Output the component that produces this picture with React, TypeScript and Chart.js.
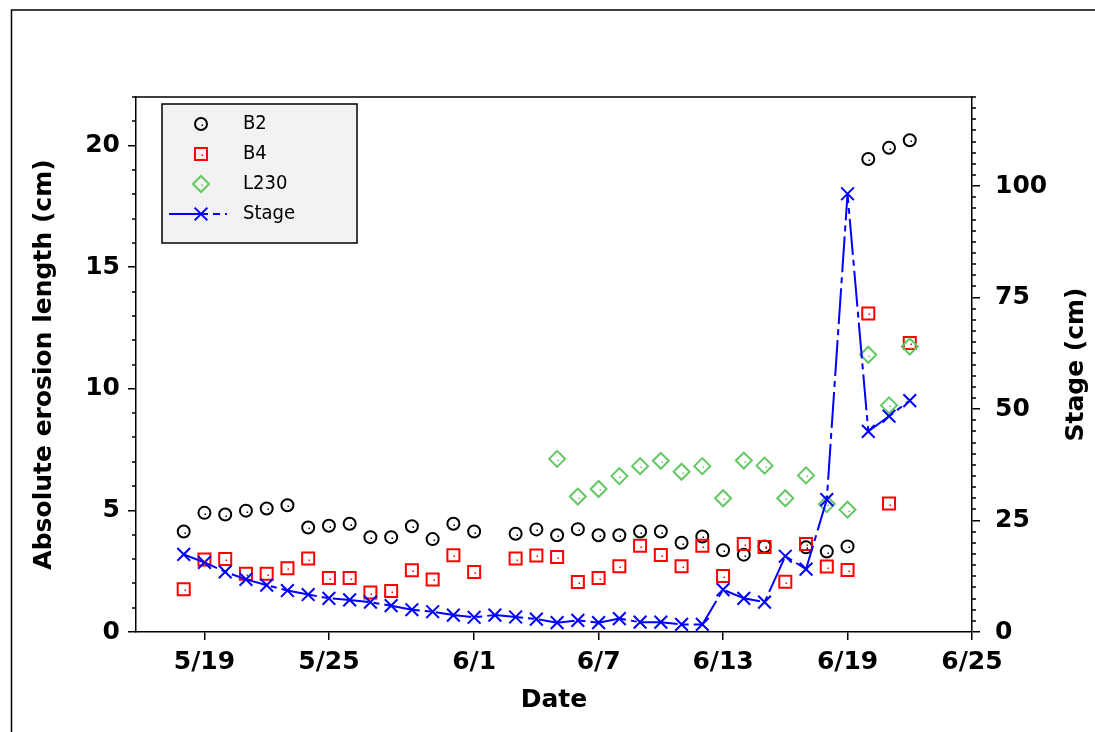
import { useEffect, useRef } from 'react';
import { Chart, registerables } from 'chart.js';

Chart.register(...registerables);

// sampling dates (one reading a day)
const dates = [
  '5/18', '5/19', '5/20', '5/21', '5/22', '5/23', '5/24', '5/25', '5/26', '5/27', '5/28', '5/29',
  '5/30', '5/31', '6/1', '6/2', '6/3', '6/4', '6/5', '6/6', '6/7', '6/8', '6/9', '6/10',
  '6/11', '6/12', '6/13', '6/14', '6/15', '6/16', '6/17', '6/18', '6/19', '6/20', '6/21', '6/22',
];

const seriesNames = ['B2', 'B4', 'L230', 'Stage'];

// absolute erosion length (cm)
const b2 = [
  4.13, 4.9, 4.83, 4.99, 5.08, 5.21, 4.3, 4.37, 4.45, 3.9, 3.9, 4.35,
  3.82, 4.45, 4.13, null, 4.04, 4.22, 3.98, 4.23, 3.98, 3.98, 4.13, 4.13,
  3.67, 3.93, 3.36, 3.18, 3.52, null, 3.48, 3.31, 3.52, 19.45, 19.91, 20.22,
];
const b4 = [
  1.76, 2.98, 3.0, 2.4, 2.4, 2.62, 3.02, 2.22, 2.22, 1.62, 1.69, 2.54,
  2.16, 3.16, 2.47, null, 3.02, 3.15, 3.08, 2.06, 2.22, 2.7, 3.55, 3.17,
  2.7, 3.55, 2.3, 3.62, 3.5, 2.07, 3.62, 2.69, 2.55, 13.1, 5.28, 11.88,
];
const l230 = [
  null, null, null, null, null, null, null, null, null, null, null, null,
  null, null, null, null, null, null, 7.12, 5.57, 5.88, 6.41, 6.82, 7.04,
  6.59, 6.82, 5.5, 7.05, 6.84, 5.5, 6.44, 5.26, 5.03, 11.4, 9.32, 11.74,
];
// stage (cm)
const stage = [
  17.4, 15.6, 13.5, 11.8, 10.5, 9.3, 8.4, 7.55, 7.2, 6.7, 5.9, 5.0,
  4.55, 3.8, 3.3, 3.8, 3.36, 2.9, 2.1, 2.6, 2.1, 3.0, 2.2, 2.2,
  1.7, 1.7, 9.5, 7.55, 6.7, 17.0, 14.1, 29.7, 98.3, 45.0, 48.4, 51.9,
];

const dateTicks = ['5/19', '5/25', '6/1', '6/7', '6/13', '6/19', '6/25'];
const erosionTicks = [0, 5, 10, 15, 20];
const stageTicks = [0, 25, 50, 75, 100];

const FONT = '"DejaVu Sans", Verdana, sans-serif';
const STAGE_TITLE = 'Stage (cm)';

const dayOf = (s: string) => {
  const [m, d] = s.split('/').map(Number);
  return m === 5 ? d : 31 + d;
};

const toPoints = (vals: (number | null)[]) =>
  dates.map((d, i) => ({ x: dayOf(d), y: vals[i] })).filter(p => p.y !== null);

function drawMarker(ctx: CanvasRenderingContext2D, style: string, x: number, y: number, r: number) {
  ctx.beginPath();
  if (style === 'circle') {
    ctx.arc(x, y, r, 0, Math.PI * 2);
  } else if (style === 'rect') {
    const s = r * Math.SQRT1_2;
    ctx.rect(x - s, y - s, 2 * s, 2 * s);
  } else if (style === 'rectRot') {
    ctx.moveTo(x - r, y);
    ctx.lineTo(x, y - r);
    ctx.lineTo(x + r, y);
    ctx.lineTo(x, y + r);
    ctx.closePath();
  } else {
    const s = r * Math.SQRT1_2;
    ctx.moveTo(x - s, y - s);
    ctx.lineTo(x + s, y + s);
    ctx.moveTo(x + s, y - s);
    ctx.lineTo(x - s, y + s);
  }
  ctx.stroke();
}

const framePlugin = {
  id: 'frame',
  beforeDraw(chart: Chart) {
    const { ctx, width, height } = chart;
    ctx.save();
    ctx.fillStyle = '#fff';
    ctx.fillRect(0, 0, width, height);
    ctx.strokeStyle = '#000';
    ctx.lineWidth = 1.5;
    ctx.beginPath();
    ctx.moveTo(11.5, height);
    ctx.lineTo(11.5, 10);
    ctx.lineTo(width, 10);
    ctx.stroke();
    ctx.restore();
  },
  afterDraw(chart: Chart) {
    const { ctx, chartArea } = chart;
    const { left, right, top, bottom } = chartArea;
    const y = chart.scales.y;
    const y1 = chart.scales.y1;
    ctx.save();
    ctx.strokeStyle = '#000';
    ctx.lineWidth = 1.5;
    ctx.beginPath();
    ctx.moveTo(left, top);
    ctx.lineTo(right, top);
    // minor ticks
    for (let v = 1; v <= 22; v++) {
      if (v % 5 === 0) continue;
      const py = Math.round(y.getPixelForValue(v));
      ctx.moveTo(left - 4, py);
      ctx.lineTo(left, py);
    }
    for (let v = 2.5; v <= 120; v += 2.5) {
      if (v % 25 === 0) continue;
      const py = Math.round(y1.getPixelForValue(v));
      ctx.moveTo(right, py);
      ctx.lineTo(right + 4, py);
    }
    ctx.stroke();

    // right axis title reads bottom-to-top like the left one
    ctx.translate(1076, (top + bottom) / 2);
    ctx.rotate(-Math.PI / 2);
    ctx.fillStyle = '#000';
    ctx.font = `bold 25px ${FONT}`;
    ctx.textAlign = 'center';
    ctx.textBaseline = 'middle';
    ctx.fillText(STAGE_TITLE, 0, 0);
    ctx.restore();
  },
};

// little centre dots inside the open markers
const dotPlugin = {
  id: 'centreDots',
  afterDatasetsDraw(chart: Chart) {
    const { ctx } = chart;
    ctx.save();
    chart.data.datasets.forEach((ds: any, i: number) => {
      if (!ds.centreDot) return;
      ctx.fillStyle = ds.pointBorderColor;
      chart.getDatasetMeta(i).data.forEach((el: any) => {
        ctx.fillRect(Math.round(el.x) + 0.5, Math.round(el.y) + 0.5, 1.5, 1.5);
      });
    });
    ctx.restore();
  },
};

const legendPlugin = {
  id: 'boxLegend',
  afterDraw(chart: Chart) {
    const { ctx } = chart;
    ctx.save();
    ctx.fillStyle = '#f2f2f2';
    ctx.fillRect(162, 104, 195, 139);
    ctx.strokeStyle = '#000';
    ctx.lineWidth = 1.5;
    ctx.strokeRect(162, 104, 195, 139);
    chart.data.datasets.forEach((ds: any, i: number) => {
      const cy = 124 + i * 30;
      const cx = 201;
      ctx.strokeStyle = ds.pointBorderColor;
      if (ds.showLine) {
        ctx.lineWidth = 2;
        ctx.setLineDash([39, 5, 7, 5, 2, 40]);
        ctx.beginPath();
        ctx.moveTo(169, cy);
        ctx.lineTo(234, cy);
        ctx.stroke();
        ctx.setLineDash([]);
      }
      ctx.lineWidth = ds.pointBorderWidth;
      drawMarker(ctx, ds.pointStyle, cx, cy, ds.pointRadius);
      if (ds.centreDot) {
        ctx.fillStyle = ds.pointBorderColor;
        ctx.fillRect(cx + 0.5, cy + 0.5, 1.5, 1.5);
      }
      ctx.fillStyle = '#000';
      ctx.font = `20px "DejaVu Sans Condensed", ${FONT}`;
      ctx.textBaseline = 'middle';
      ctx.textAlign = 'left';
      ctx.fillText(ds.label, 243, cy);
    });
    ctx.restore();
  },
};

const axisGrid = { drawOnChartArea: false, drawTicks: true, tickLength: 8, color: '#000', lineWidth: 1.5 };
const axisBorder = { color: '#000', width: 1.5 };
const tickFont = { family: FONT, size: 25, weight: 'bold' as const };
const titleFont = { family: FONT, size: 25, weight: 'bold' as const };

export default function App() {
  const chartRef = useRef<HTMLCanvasElement>(null);
  const chartInstance = useRef<Chart | null>(null);

  useEffect(() => {
    if (!chartRef.current) return;
    if (chartInstance.current) chartInstance.current.destroy();
    const ctx = chartRef.current.getContext('2d');
    if (!ctx) return;

    chartInstance.current = new Chart(ctx, {
      type: 'scatter',
      data: {
        datasets: [
          {
            label: seriesNames[0],
            data: toPoints(b2),
            pointStyle: 'circle',
            pointRadius: 6,
            pointBorderWidth: 2,
            pointBorderColor: '#000000',
            pointBackgroundColor: 'transparent',
            borderColor: '#000000',
            showLine: false,
            centreDot: true,
            order: 3,
          } as any,
          {
            label: seriesNames[1],
            data: toPoints(b4),
            pointStyle: 'rect',
            pointRadius: 8.5,
            pointBorderWidth: 2,
            pointBorderColor: '#ff0000',
            pointBackgroundColor: 'transparent',
            borderColor: '#ff0000',
            showLine: false,
            centreDot: true,
            order: 2,
          },
          {
            label: seriesNames[2],
            data: toPoints(l230),
            pointStyle: 'rectRot',
            pointRadius: 8,
            pointBorderWidth: 2,
            pointBorderColor: '#62c862',
            pointBackgroundColor: 'transparent',
            borderColor: '#62c862',
            showLine: false,
            centreDot: true,
            order: 1,
          },
          {
            label: seriesNames[3],
            data: toPoints(stage),
            yAxisID: 'y1',
            pointStyle: 'crossRot',
            pointRadius: 9,
            pointBorderWidth: 2,
            pointBorderColor: '#0000ff',
            pointBackgroundColor: 'transparent',
            borderColor: '#0000ff',
            borderWidth: 2,
            borderDash: [36, 5, 6, 5],
            showLine: true,
            order: 0,
          },
        ],
      },
      options: {
        responsive: false,
        animation: false,
        events: [],
        layout: { padding: { left: 0, right: 0, top: 97, bottom: 0 }, autoPadding: false },
        plugins: {
          legend: { display: false },
          tooltip: { enabled: false },
        },
        scales: {
          x: {
            type: 'linear',
            position: 'bottom',
            min: 15.7,
            max: 56,
            afterBuildTicks: (scale: any) => {
              scale.ticks = dateTicks.map(s => ({ value: dayOf(s) }));
            },
            afterFit: (scale: any) => {
              scale.height = 100;
            },
            ticks: {
              autoSkip: false,
              maxRotation: 0,
              padding: 7,
              color: '#000',
              font: tickFont,
              callback: (v: any) => dateTicks.find(s => dayOf(s) === v) ?? '',
            },
            grid: axisGrid,
            border: axisBorder,
            title: { display: true, text: 'Date', color: '#000', font: titleFont, padding: { top: 0, bottom: 17 } },
          },
          y: {
            type: 'linear',
            position: 'left',
            min: 0,
            max: 22,
            afterBuildTicks: (scale: any) => {
              scale.ticks = erosionTicks.map(v => ({ value: v }));
            },
            afterFit: (scale: any) => {
              scale.width = 136;
            },
            ticks: { padding: 8, color: '#000', font: tickFont },
            grid: axisGrid,
            border: axisBorder,
            title: {
              display: true,
              text: 'Absolute erosion length (cm)',
              color: '#000',
              font: titleFont,
              padding: { top: 29, bottom: 0 },
            },
          },
          y1: {
            type: 'linear',
            position: 'right',
            min: 0,
            max: 120,
            afterBuildTicks: (scale: any) => {
              scale.ticks = stageTicks.map(v => ({ value: v }));
            },
            afterFit: (scale: any) => {
              scale.width = 123;
            },
            ticks: { padding: 15, color: '#000', font: tickFont },
            grid: axisGrid,
            border: axisBorder,
            title: { display: false, text: STAGE_TITLE },
          },
        },
      },
      plugins: [framePlugin, dotPlugin, legendPlugin],
    } as any);

    return () => {
      if (chartInstance.current) {
        chartInstance.current.destroy();
        chartInstance.current = null;
      }
    };
  }, []);

  return (
    <div style={{ position: 'fixed', left: 0, top: 0, width: 1095, height: 732, background: '#fff' }}>
      <canvas ref={chartRef} width={1095} height={732} style={{ display: 'block' }}></canvas>
    </div>
  );
}
